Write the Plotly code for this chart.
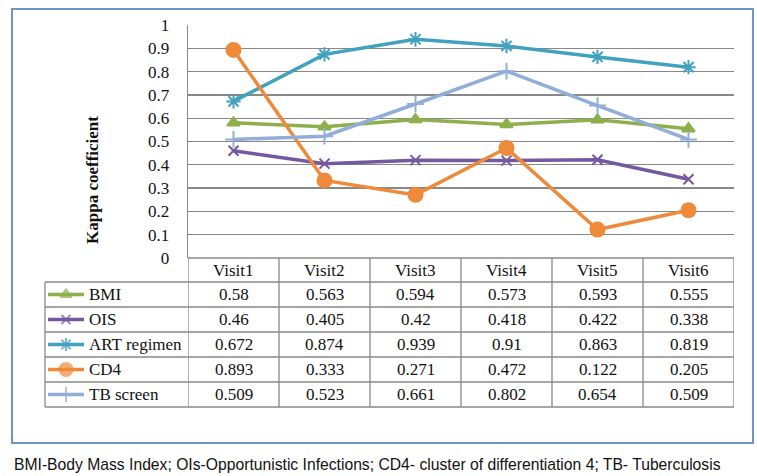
import plotly.graph_objects as go

# ---------------- data ----------------
visits = ["Visit1", "Visit2", "Visit3", "Visit4", "Visit5", "Visit6"]
series_names = ["BMI", "OIS", "ART regimen", "CD4", "TB screen"]
bmi = [0.58, 0.563, 0.594, 0.573, 0.593, 0.555]
ois = [0.46, 0.405, 0.42, 0.418, 0.422, 0.338]
art = [0.672, 0.874, 0.939, 0.91, 0.863, 0.819]
cd4 = [0.893, 0.333, 0.271, 0.472, 0.122, 0.205]
tb = [0.509, 0.523, 0.661, 0.802, 0.654, 0.509]
y_ticks = [0, 0.1, 0.2, 0.3, 0.4, 0.5, 0.6, 0.7, 0.8, 0.9, 1]
y_title = "Kappa coefficient"
caption = "BMI-Body Mass Index; OIs-Opportunistic Infections; CD4- cluster of differentiation 4; TB- Tuberculosis"

# ---------------- styling ----------------
W, H = 757, 476
def px(x):
    return x / W
def py(y):
    return 1 - y / H

colors = ["#8DB04B", "#7458A0", "#42A1BE", "#EE8A3A", "#92AED8"]
symbols = ["triangle-up", "x-thin-open", "asterisk-open", "circle", "cross-thin-open"]
msizes = [11, 10, 12, 14, 12]
serif = "Liberation Serif, Times New Roman, serif"
grid = "#888888"

PLOT_L, PLOT_R, PLOT_T, PLOT_B = 188, 734, 25, 258
TABLE_L = 45
row_edges = [258, 282, 307, 332, 357, 382, 407]

values = [bmi, ois, art, cd4, tb]

fig = go.Figure()
for name, vals, c, s, ms in zip(series_names, values, colors, symbols, msizes):
    fig.add_trace(go.Scatter(
        x=visits, y=vals, name=name, mode="lines+markers",
        line=dict(color=c, width=3.5),
        marker=dict(symbol=s, size=ms, color=c, line=dict(color=c, width=2)),
        showlegend=False, xaxis="x", yaxis="y", cliponaxis=False,
    ))

# legend keys in table (pixel helper axes)
for i, (name, c, s, ms) in enumerate(zip(series_names, colors, symbols, msizes)):
    yc = (row_edges[i + 1] + row_edges[i + 2]) / 2
    fig.add_trace(go.Scatter(
        x=[48, 66, 84], y=[yc, yc, yc], mode="lines+markers",
        line=dict(color=c, width=3.5),
        marker=dict(symbol=s, size=[0, ms - 1, 0], color=c, line=dict(color=c, width=2)),
        showlegend=False, xaxis="x2", yaxis="y2", hoverinfo="skip",
    ))

shapes = []
# outer frame
shapes.append(dict(type="rect", xref="paper", yref="paper",
                   x0=px(12), x1=px(753), y0=py(443), y1=py(9),
                   line=dict(color="#7193C0", width=2)))
# table horizontal lines
for k, ye in enumerate(row_edges):
    x0 = PLOT_L if k == 0 else TABLE_L
    shapes.append(dict(type="line", xref="paper", yref="paper",
                       x0=px(x0), x1=px(PLOT_R), y0=py(ye), y1=py(ye),
                       line=dict(color=grid, width=1.3)))
# table vertical lines
for i in range(len(visits) + 1):
    shapes.append(dict(type="line", xref="x", yref="paper",
                       x0=i - 0.5, x1=i - 0.5, y0=py(row_edges[-1]), y1=py(row_edges[0]),
                       line=dict(color=grid, width=1.3)))
shapes.append(dict(type="line", xref="paper", yref="paper",
                   x0=px(TABLE_L), x1=px(TABLE_L), y0=py(row_edges[-1]), y1=py(row_edges[1]),
                   line=dict(color=grid, width=1.3)))

tfont = dict(family=serif, size=17, color="#111")
annotations = []
# header row
for v in visits:
    annotations.append(dict(x=v, xref="x", y=py((row_edges[0] + row_edges[1]) / 2), yref="paper",
                            xanchor="center", yanchor="middle",
                            text=v, showarrow=False, font=tfont))
# body
for i, (name, vals) in enumerate(zip(series_names, values)):
    yc = py((row_edges[i + 1] + row_edges[i + 2]) / 2)
    annotations.append(dict(x=px(87), xref="paper", y=yc, yref="paper",
                            xanchor="left", yanchor="middle",
                            text=name, showarrow=False, font=tfont))
    for v, val in zip(visits, vals):
        annotations.append(dict(x=v, xref="x", y=yc, yref="paper",
                                xanchor="center", yanchor="middle",
                                text=str(val), showarrow=False, font=tfont))
# y title
annotations.append(dict(x=px(92), y=py(180), xref="paper", yref="paper",
                        xanchor="center", yanchor="middle",
                        text="<b>" + y_title + "</b>", textangle=-90, showarrow=False,
                        font=dict(family=serif, size=17, color="#111")))
# caption
annotations.append(dict(x=px(12), y=py(464), xref="paper", yref="paper",
                        xanchor="left", yanchor="middle",
                        text=caption, showarrow=False,
                        font=dict(family="Liberation Sans, Arial, sans-serif", size=15.7, color="#111")))

fig.update_layout(
    width=W, height=H, margin=dict(l=0, r=0, t=0, b=0, autoexpand=False),
    paper_bgcolor="white", plot_bgcolor="rgba(0,0,0,0)",
    xaxis=dict(domain=[px(PLOT_L), px(PLOT_R)], range=[-0.5, 5.5], type="category",
               showgrid=False, showticklabels=False, zeroline=False, showline=False, ticks=""),
    yaxis=dict(domain=[py(PLOT_B), py(PLOT_T)], range=[0, 1], tickvals=y_ticks,
               ticktext=[f"{t:g}" for t in y_ticks],
               showgrid=True, gridcolor=grid, gridwidth=1.3, zeroline=False,
               showline=True, linecolor=grid, linewidth=1.3, ticks="", ticklabelstandoff=14,
               tickfont=dict(family=serif, size=17, color="#111")),
    xaxis2=dict(domain=[0, 1], range=[0, W], visible=False, anchor="y2"),
    yaxis2=dict(domain=[0, 1], range=[H, 0], visible=False, anchor="x2"),
    shapes=shapes, annotations=annotations,
    hovermode=False,
)

fig.write_html("out.html", config={"displayModeBar": False, "staticPlot": True},
               post_script="document.body.style.margin='0';document.body.style.overflow='hidden';")
